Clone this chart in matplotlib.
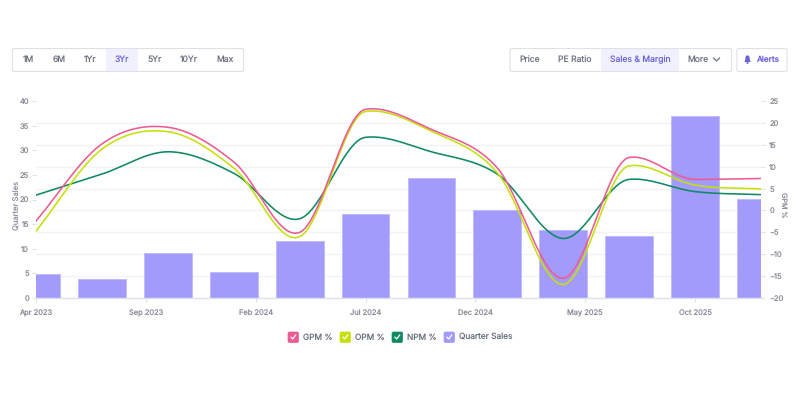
import numpy as np
import matplotlib.pyplot as plt
from matplotlib.patches import FancyBboxPatch, Rectangle, Polygon, Circle

plt.rcParams['font.family'] = ['Inter', 'DejaVu Sans']
plt.rcParams['text.hinting'] = 'no_hinting'
plt.rcParams['text.hinting_factor'] = 1

# quarters, counted in months from the first one
months = [0, 3, 6, 9, 12, 15, 18, 21, 24, 27, 30, 33]
quarter_sales = [4.9, 3.8, 9.1, 5.35, 11.6, 17.1, 24.4, 17.9, 13.9, 12.6, 37.0, 20.2]
gpm = [-2.4, 15.2, 19.0, 11.1, -5.0, 23.1, 18.5, 9.7, -15.5, 12.1, 7.1, 7.3]
opm = [-4.7, 14.0, 18.0, 9.7, -6.0, 22.6, 18.1, 8.6, -16.9, 10.2, 5.8, 4.9]
npm = [3.5, 8.3, 13.4, 8.5, -1.9, 16.7, 13.4, 8.3, -6.4, 7.1, 4.3, 3.6]

x_tick_months = [0, 5, 10, 15, 20, 25, 30]
x_tick_labels = ['Apr 2023', 'Sep 2023', 'Feb 2024', 'Jul 2024', 'Dec 2024', 'May 2025', 'Oct 2025']
left_ticks = [0, 5, 10, 15, 20, 25, 30, 35, 40]
right_ticks = [-20, -15, -10, -5, 0, 5, 10, 15, 20, 25]

period_tabs = ['1M', '6M', '1Yr', '3Yr', '5Yr', '10Yr', 'Max']
period_x = [28, 59, 90, 122, 155, 189, 225]
metric_tabs = ['Price', 'PE Ratio', 'Sales & Margin', 'More']
metric_x = [529.5, 575, 640, 698]

GPM_COLOR = '#ec5b93'
OPM_COLOR = '#c6e00a'
NPM_COLOR = '#0f8a62'
BAR_COLOR = '#a29bfb'
ACCENT = '#6a62dc'
TEXT = '#6b7280'
AXIS_TEXT = '#8a8f98'
BORDER = '#dfe1e8'


def smooth(x, y, per_segment=40):
    """Cubic Hermite curve through the points, with flattened tangents at turning points."""
    x = np.asarray(x, dtype=float)
    y = np.asarray(y, dtype=float)
    secants = np.diff(y) / np.diff(x)
    slopes = np.gradient(y, x)
    for i in range(1, len(x) - 1):
        left, right = secants[i - 1], secants[i]
        if left * right < 0:
            # a peak or trough: keep the overshoot small
            limit = 0.5 * min(abs(left), abs(right))
            slopes[i] = np.clip(slopes[i], -limit, limit)
    xs, ys = [], []
    for i in range(len(x) - 1):
        h = x[i + 1] - x[i]
        t = np.linspace(0, 1, per_segment, endpoint=False)
        h00 = 2*t**3 - 3*t**2 + 1
        h10 = t**3 - 2*t**2 + t
        h01 = -2*t**3 + 3*t**2
        h11 = t**3 - t**2
        xs.append(x[i] + t*h)
        ys.append(h00*y[i] + h10*h*slopes[i] + h01*y[i + 1] + h11*h*slopes[i + 1])
    xs.append(x[-1:])
    ys.append(y[-1:])
    return np.concatenate(xs), np.concatenate(ys)


fig = plt.figure(figsize=(8, 4), dpi=100)

# plot area runs 36..761 px across and 101..298 px down
ax = fig.add_axes([36/800, 1 - 298/400, 725/800, 197/400])
ax.bar(months, quarter_sales, width=2.18, color=BAR_COLOR, edgecolor='#bdb8fc', linewidth=0.6, zorder=2)
ax.set_xlim(0, 33)
ax.set_ylim(0, 40)
ax.set_yticks(left_ticks)
ax.set_xticks(x_tick_months)
ax.set_xticklabels(x_tick_labels)
ax.tick_params(axis='both', labelsize=5.4, labelcolor=AXIS_TEXT, color=BORDER, length=3, width=0.8, pad=2)
ax.tick_params(axis='x', pad=5)

# grid follows the right hand scale, so it sits at its own spacing
ax.set_yticks(np.linspace(0, 40, len(right_ticks)), minor=True)
ax.tick_params(axis='y', which='minor', length=0)
ax.grid(True, axis='y', which='minor', color='#f2f3f6', linewidth=1)
ax.set_axisbelow(True)
for side in ['top', 'left', 'right']:
    ax.spines[side].set_visible(False)
ax.spines['bottom'].set_color(BORDER)
ax.spines['bottom'].set_linewidth(1)

ax2 = ax.twinx()
ax2.set_ylim(-20, 25)
ax2.set_yticks(right_ticks)
ax2.tick_params(axis='y', labelsize=5.4, labelcolor=AXIS_TEXT, color=BORDER, length=3, width=0.8, pad=3)
for side in ['top', 'left', 'right', 'bottom']:
    ax2.spines[side].set_visible(False)
for series, color in [(npm, NPM_COLOR), (opm, OPM_COLOR), (gpm, GPM_COLOR)]:
    xs, ys = smooth(months, series)
    ax2.plot(xs, ys, color=color, linewidth=1.15, zorder=3)

# overlay in pixel coordinates for the buttons, legend and axis titles
ui = fig.add_axes([0, 0, 1, 1], facecolor='none')
ui.set_xlim(0, 800)
ui.set_ylim(400, 0)
ui.axis('off')


def rounded(x0, y0, x1, y1, face='white', edge=BORDER, r=2, lw=0.8):
    ui.add_patch(FancyBboxPatch((x0, y0), x1 - x0, y1 - y0, boxstyle=f'round,pad=0,rounding_size={r}',
                                facecolor=face, edgecolor=edge, linewidth=lw))


rounded(12.5, 48.5, 243.5, 71.5)
rounded(510, 48.5, 731.5, 71.5)
rounded(737, 48.5, 787, 71.5)
ui.add_patch(Rectangle((106, 49), 32, 22, facecolor='#f1f1fd', edgecolor='none'))
ui.add_patch(Rectangle((601, 49), 77.5, 22, facecolor='#f1f1fd', edgecolor='none'))

for label, x in zip(period_tabs, period_x):
    color = ACCENT if label == '3Yr' else TEXT
    ui.text(x, 59.5, label, ha='center', va='center', fontsize=6.2, color=color)
for label, x in zip(metric_tabs, metric_x):
    color = ACCENT if label == 'Sales & Margin' else TEXT
    ui.text(x, 59.5, label, ha='center', va='center', fontsize=6.2, color=color)
ui.plot([713.5, 716.5, 719.5], [58, 61, 58], color=TEXT, linewidth=0.9)

# bell icon on the alerts button
ui.add_patch(Polygon([(746.5, 55.5), (748.5, 55.5), (749.5, 57), (750, 61), (751, 62), (744, 62), (745, 61), (745.5, 57)],
                     closed=True, facecolor=ACCENT, edgecolor='none'))
ui.add_patch(Circle((747.5, 63), 1, facecolor=ACCENT, edgecolor='none'))
ui.text(768, 59.8, 'Alerts', ha='center', va='center', fontsize=5.9, color=ACCENT, fontweight='medium')

ui.text(17, 205, 'Quarter Sales', rotation=90, ha='center', va='center', fontsize=5.5, color=AXIS_TEXT)
ui.text(783, 205, 'GPM %', rotation=270, ha='center', va='center', fontsize=5.2, color=AXIS_TEXT)

# legend with ticked boxes
legend_labels = ['GPM %', 'OPM %', 'NPM %', 'Quarter Sales']
legend_colors = [GPM_COLOR, OPM_COLOR, NPM_COLOR, BAR_COLOR]
legend_x = [288, 340, 392, 444]
for label, color, x in zip(legend_labels, legend_colors, legend_x):
    rounded(x, 332, x + 10.5, 342.5, face=color, edge=color, r=1.5, lw=0.5)
    ui.plot([x + 3, x + 4.7, x + 7.7], [337.2, 339, 335], color='white', linewidth=0.9)
    ui.text(x + 15, 337.5, label, ha='left', va='center', fontsize=6.0, color=TEXT)

fig.savefig('out.png', dpi=100)
